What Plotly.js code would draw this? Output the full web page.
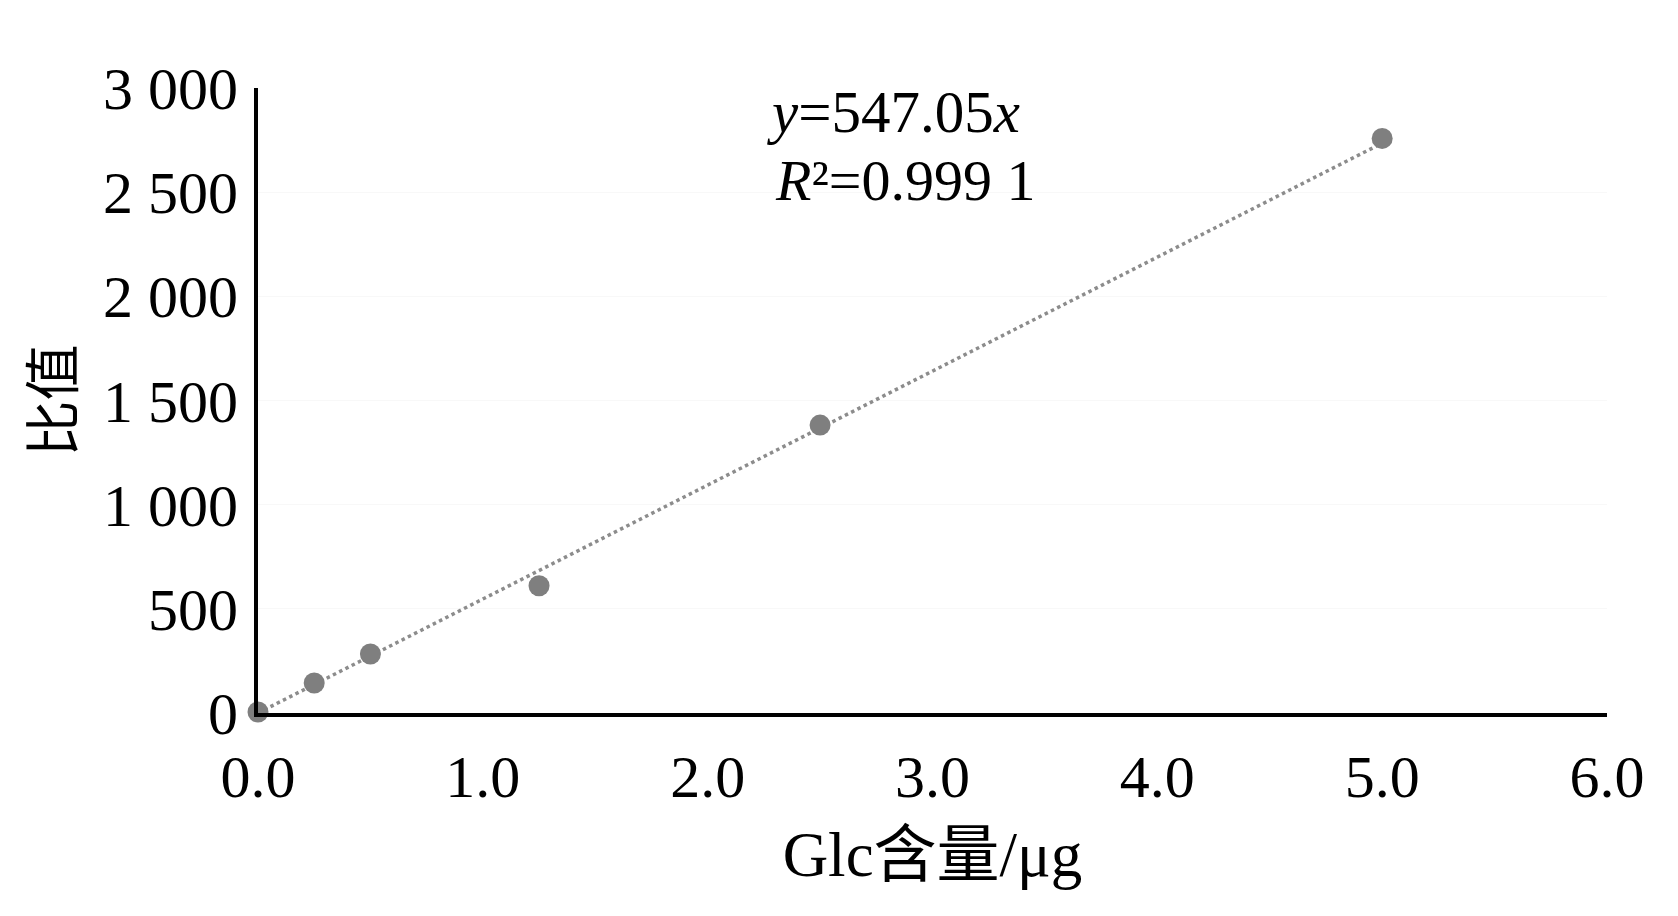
<!DOCTYPE html>
<html>
<head>
<meta charset="utf-8">
<script src="https://cdn.plot.ly/plotly-3.0.1.min.js"></script>
<style>html,body{margin:0;padding:0;background:#fff;}#chart{width:1678px;height:916px;}</style>
</head>
<body>
<div id="chart"></div>
<script>
// Data
const glcContent = [0, 0.25, 0.5, 1.25, 2.5, 5.0];          // Glc 含量 / μg
const ratioValues = [5, 144, 283, 611, 1382, 2758];          // 比值
const trendX = [0, 5.0];
const trendY = [0, 2735.25];                                  // y = 547.05x
const xTickVals = [0, 1, 2, 3, 4, 5, 6];
const xTickText = ["0.0", "1.0", "2.0", "3.0", "4.0", "5.0", "6.0"];
const yTickVals = [0, 500, 1000, 1500, 2000, 2500, 3000];
const yTickText = ["0", "500", "1 000", "1 500", "2 000", "2 500", "3 000"];
const equationText = "<i>y</i>=547.05<i>x</i>";
const r2Text = "<i>R</i>²=0.999 1";

const FONT = '"Liberation Serif", "Times New Roman", "Noto Sans CJK SC", serif';

const traces = [
  {
    x: trendX, y: trendY, type: 'scatter', mode: 'lines',
    line: {color: '#8c8c8c', width: 3.5, dash: 'dot'},
    hoverinfo: 'skip', showlegend: false
  },
  {
    x: glcContent, y: ratioValues, type: 'scatter', mode: 'markers',
    marker: {color: '#7f7f7f', size: 21},
    showlegend: false, cliponaxis: false
  }
];

const layout = {
  width: 1678, height: 916,
  paper_bgcolor: '#ffffff', plot_bgcolor: '#ffffff',
  margin: {l: 258, r: 71, t: 88, b: 203},
  font: {family: FONT, color: '#000000', size: 60},
  showlegend: false,
  xaxis: {
    range: [0, 6], tickvals: xTickVals, ticktext: xTickText,
    showline: true, linecolor: '#000000', linewidth: 4,
    showgrid: false, zeroline: false, ticks: '',
    tickfont: {family: FONT, size: 60, color: '#000'},
    ticklabelstandoff: 8,
    title: {text: 'Glc含量/μg', font: {family: FONT, size: 63, color: '#000'}, standoff: 24}
  },
  yaxis: {
    range: [0, 3000], tickvals: yTickVals, ticktext: yTickText,
    showline: true, linecolor: '#000000', linewidth: 4,
    showgrid: true, gridcolor: '#f8f8f8', gridwidth: 1,
    zeroline: false, ticks: '',
    tickfont: {family: FONT, size: 60, color: '#000'},
    ticklabelstandoff: 4,
    title: {text: '比值', font: {family: '"Noto Sans CJK SC", serif', size: 56, color: '#000'}, standoff: 12}
  },
  annotations: [
    {xref: 'paper', yref: 'paper', x: 0.471, y: 0.962, xanchor: 'center', yanchor: 'middle',
     text: equationText, showarrow: false, font: {family: FONT, size: 59, color: '#000'}},
    {xref: 'paper', yref: 'paper', x: 0.48, y: 0.852, xanchor: 'center', yanchor: 'middle',
     text: r2Text, showarrow: false, font: {family: FONT, size: 58, color: '#000'}}
  ]
};

Plotly.newPlot('chart', traces, layout, {displayModeBar: false, staticPlot: true});
</script>
</body>
</html>
